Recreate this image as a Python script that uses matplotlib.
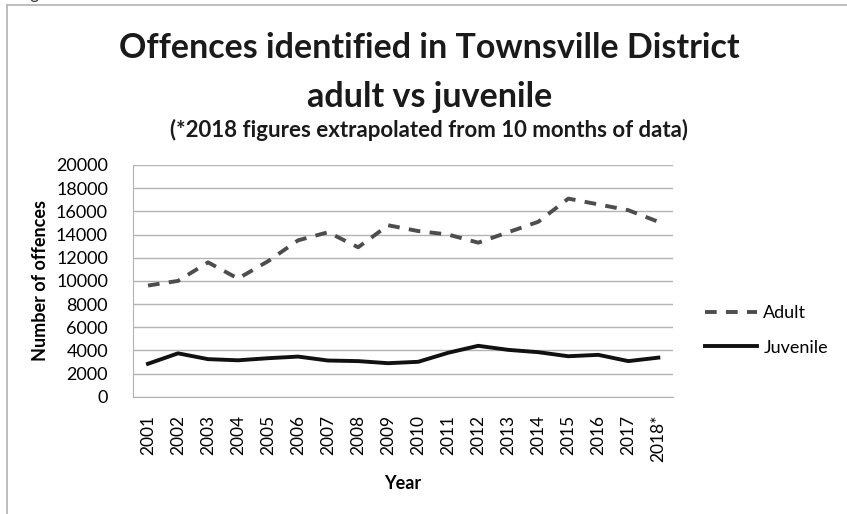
import matplotlib.pyplot as plt
from matplotlib.lines import Line2D

years = ['2001', '2002', '2003', '2004', '2005', '2006', '2007', '2008', '2009',
         '2010', '2011', '2012', '2013', '2014', '2015', '2016', '2017', '2018*']
adult = [9600, 10000, 11600, 10200, 11700, 13500, 14200, 12900, 14800,
         14300, 14000, 13300, 14200, 15100, 17100, 16600, 16100, 15100]
juvenile = [2850, 3750, 3250, 3150, 3330, 3470, 3130, 3080, 2900,
            3020, 3800, 4400, 4050, 3850, 3500, 3620, 3080, 3380]

plt.rcParams['font.family'] = ['Lato', 'DejaVu Sans']

fig = plt.figure(figsize=(8.47, 5.14), dpi=100)
ax = fig.add_axes([0.157, 0.228, 0.638, 0.451])

dash = (0, (3, 2.4))
x = range(len(years))
ax.plot(x, adult, color='#4d4d4d', lw=2.8, ls=dash, label='Adult')
ax.plot(x, juvenile, color='#111111', lw=2.8, label='Juvenile')

ax.set_xlim(-0.5, len(years) - 0.5)
ax.set_ylim(0, 20000)
ax.set_yticks(range(0, 20001, 2000))
ax.set_xticks(list(x))
ax.set_xticklabels(years, rotation=90, fontsize=12.5)
ax.tick_params(axis='y', labelsize=13, length=0, pad=18)
ax.tick_params(axis='x', length=0, pad=13)
ax.grid(axis='y', color='#b3b3b3', lw=1)
ax.set_axisbelow(True)
for s in ['top', 'right']:
    ax.spines[s].set_visible(False)
for s in ['left', 'bottom']:
    ax.spines[s].set_color('#b3b3b3')
ax.set_ylabel('Number of offences', fontsize=13, fontweight='bold', labelpad=5)
ax.set_xlabel('Year', fontsize=13, fontweight='bold', labelpad=9)

handles = [Line2D([], [], color='#4d4d4d', lw=2.8, ls=dash),
           Line2D([], [], color='#111111', lw=2.8)]
fig.legend(handles, ['Adult', 'Juvenile'], loc='center left',
           bbox_to_anchor=(0.832, 0.357), frameon=False, fontsize=13,
           handlelength=2.9, handletextpad=0.35, labelspacing=1.0,
           borderaxespad=0, borderpad=0)

fig.text(0.507, 0.906, 'Offences identified in Townsville District',
         ha='center', va='center', fontsize=24.5, fontweight='bold', color='#1a1a1a')
fig.text(0.507, 0.812, 'adult vs juvenile',
         ha='center', va='center', fontsize=24.5, fontweight='bold', color='#1a1a1a')
fig.text(0.507, 0.747, '(*2018 figures extrapolated from 10 months of data)',
         ha='center', va='center', fontsize=16, fontweight='bold', color='#1a1a1a')

# outer frame edge and clipped caption at top
fig.add_artist(Line2D([0.008, 0.008], [0, 0.99], color='#b3b3b3', lw=1.2))
fig.add_artist(Line2D([0.008, 1.0], [0.99, 0.99], color='#b3b3b3', lw=1.2))
fig.text(0.02, 1.012, 'Figure 1', fontsize=12, va='center', color='#333333')

fig.savefig('out.png', dpi=100)
